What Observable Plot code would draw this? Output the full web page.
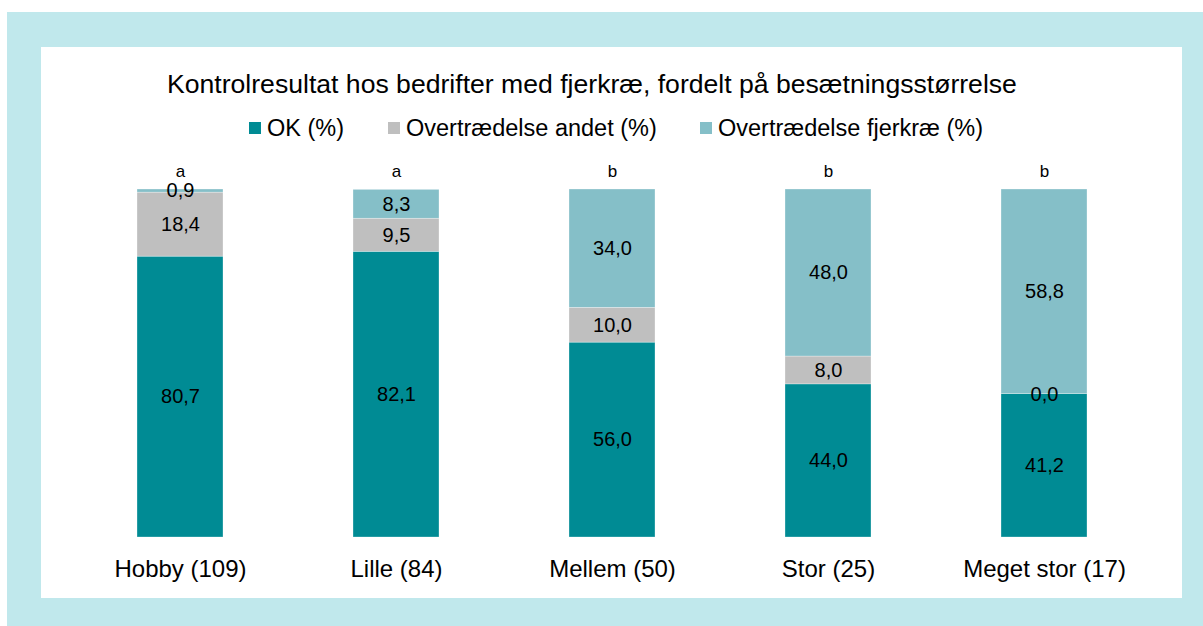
<!DOCTYPE html>
<html>
<head>
<meta charset="utf-8">
<script src="https://cdn.jsdelivr.net/npm/d3@7"></script>
<script src="https://cdn.jsdelivr.net/npm/@observablehq/plot@0.6"></script>
<style>
  html, body { margin: 0; padding: 0; background: #ffffff; font-family: "Liberation Sans", Arial, sans-serif; }
  #frame { position: absolute; left: 7px; top: 12px; width: 1196px; height: 614px; background: #c0e8ec; }
  #panel { position: absolute; left: 34px; top: 35px; width: 1141px; height: 551px; background: #ffffff; }
  #title { position: absolute; left: 126px; top: 22px; font-size: 26.6px; line-height: 30px; color: #000; white-space: nowrap; }
  .item { position: absolute; top: 68px; display: flex; align-items: center; gap: 6px; font-size: 23.5px; line-height: 26px; color: #000; white-space: nowrap; }
  .sw { width: 12px; height: 12px; display: inline-block; }
  #chart { position: absolute; left: 0; top: 103px; }
</style>
</head>
<body>
<div id="frame"><div id="panel">
  <div id="title">Kontrolresultat hos bedrifter med fjerkræ, fordelt på besætningsstørrelse</div>
  <div id="legend"></div>
  <div id="chart"></div>
</div></div>
<script>
const categories = ["Hobby (109)", "Lille (84)", "Mellem (50)", "Stor (25)", "Meget stor (17)"];
const series = ["OK (%)", "Overtrædelse andet (%)", "Overtrædelse fjerkræ (%)"];
const colors = ["#008b94", "#bfbfbf", "#85bfc8"];
const okValues = [80.7, 82.1, 56.0, 44.0, 41.2];
const andetValues = [18.4, 9.5, 10.0, 8.0, 0.0];
const fjerkraeValues = [0.9, 8.3, 34.0, 48.0, 58.8];
const groupLetters = ["a", "a", "b", "b", "b"];

const seriesValues = [okValues, andetValues, fjerkraeValues];
const data = [];
series.forEach((s, si) => {
  categories.forEach((c, ci) => {
    data.push({category: c, series: s, value: seriesValues[si][ci]});
  });
});
const letters = categories.map((c, i) => ({category: c, letter: groupLetters[i]}));
const fmt = v => v.toFixed(1).replace(".", ",");

// legend
const legend = document.getElementById("legend");
const legendLeft = [208, 347, 659];
series.forEach((s, i) => {
  const it = document.createElement("div");
  it.className = "item";
  it.style.left = legendLeft[i] + "px";
  const sw = document.createElement("span");
  sw.className = "sw";
  sw.style.background = colors[i];
  const t = document.createElement("span");
  t.textContent = s;
  it.appendChild(sw); it.appendChild(t);
  legend.appendChild(it);
});

const chart = Plot.plot({
  width: 1141,
  height: 448,
  marginLeft: 30,
  marginRight: 29,
  marginTop: 39,
  marginBottom: 61,
  style: {fontFamily: "'Liberation Sans', Arial, sans-serif", background: "transparent"},
  x: {domain: categories, paddingInner: 0.6, paddingOuter: 0.3, label: null},
  y: {domain: [0, 100], axis: null},
  color: {domain: series, range: colors},
  marks: [
    Plot.barY(data, Plot.stackY({x: "category", y: "value", fill: "series", order: series, stroke: "#ffffff", strokeWidth: 0.6, strokeOpacity: 0.5})),
    Plot.text(data, Plot.stackY({x: "category", y: "value", z: "series", order: series, text: d => fmt(d.value), fontSize: 20, fill: "#000"})),
    Plot.text(letters, {x: "category", y: 100, text: "letter", dy: -18, fontSize: 17, fill: "#000"}),
    Plot.axisX({tickSize: 0, tickPadding: 22, fontSize: 24, fill: "#000", label: null})
  ]
});
document.getElementById("chart").appendChild(chart);
</script>
</body>
</html>
